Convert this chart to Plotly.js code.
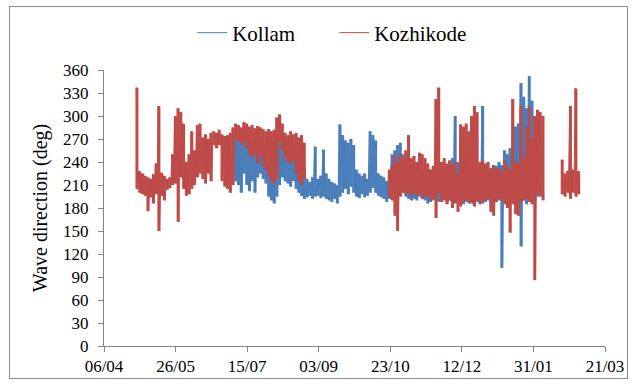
<!DOCTYPE html>
<html>
<head>
<meta charset="utf-8">
<script src="https://cdn.plot.ly/plotly-3.0.1.min.js"></script>
<style>
  html, body { margin: 0; padding: 0; background: #ffffff; }
  #wrap { position: relative; width: 638px; height: 387px; }
  #chart { width: 638px; height: 387px; }
  #frame { position: absolute; left: 9px; top: 6px; width: 619px; height: 373px;
           border: 1px solid #8c8c8c; pointer-events: none; box-sizing: border-box; }
</style>
</head>
<body>
<div id="wrap"><div id="chart"></div><div id="frame"></div></div>
<script>
// ---- Data ----
// Each sample: highest and lowest wave direction (deg) within one sampling interval.
const sampleStepHours = 46;
const kozhikodeStart = '2011-04-28T13:00:00';
const kollamStart = '2011-07-06T13:00:00';

const kozhikodeHigh = [
  337,228,225,222,220,218,224,238,313,226,222,218,220,250,300,310,305,290,240,250,
  280,255,288,290,272,276,270,278,280,278,282,276,274,275,278,285,290,288,285,292,
  290,286,288,284,287,285,283,280,283,280,282,298,302,290,278,275,280,276,278,272,
  275,265,
  null,null,null,null,null,null,null,null,null,null,null,null,null,null,null,
  null,null,null,null,null,null,null,null,null,null,null,null,null,null,null,
  230,235,248,240,250,245,255,275,245,248,240,252,250,245,238,230,235,322,337,
  240,245,238,242,236,240,225,289,286,290,280,300,313,305,240,242,238,240,232,236,
  230,232,228,243,235,230,322,240,238,313,245,285,313,270,300,308,305,300,
  null,null,null,null,null,null,
  243,225,228,313,230,336,228
];
const kozhikodeLow = [
  205,200,198,196,176,194,186,198,150,196,190,204,206,210,212,162,220,205,196,198,
  205,210,220,225,218,212,225,215,262,258,262,215,208,205,200,210,270,268,262,266,
  258,250,245,250,238,248,235,230,222,215,212,218,266,255,245,240,238,242,225,215,
  210,218,
  null,null,null,null,null,null,null,null,null,null,null,null,null,null,null,
  null,null,null,null,null,null,null,null,null,null,null,null,null,null,null,
  195,190,170,150,195,200,198,200,196,200,195,198,192,195,196,190,192,167,200,
  188,190,185,190,180,186,175,182,188,190,188,186,182,190,185,188,190,192,175,170,
  188,192,190,185,180,148,185,172,170,188,190,192,188,185,86,200,195,190,
  null,null,null,null,null,null,
  198,195,200,192,200,195,198
];
const kollamHigh = [
  270,285,280,275,270,265,270,268,265,272,262,258,240,250,245,285,300,280,270,265,
  268,262,255,250,245,230,218,214,220,260,218,222,256,225,218,214,212,210,289,275,
  268,265,270,262,230,225,222,225,218,280,275,268,225,222,220,215,228,250,255,262,
  265,250,235,230,225,232,228,235,230,226,228,230,225,232,228,230,235,232,238,245,
  300,240,232,235,230,228,232,228,230,235,313,232,228,225,230,235,240,236,255,250,
  258,245,286,290,343,325,310,352,320,300,280
];
const kollamLow = [
  215,210,200,225,210,202,215,200,220,225,218,212,195,190,186,195,210,220,215,212,
  208,215,205,200,196,192,194,196,192,195,196,193,195,192,190,188,192,186,195,200,
  205,198,208,200,195,193,198,194,196,200,206,200,196,194,192,188,192,200,205,210,
  208,200,195,192,190,192,190,195,192,190,186,188,190,192,188,190,192,188,190,186,
  190,188,190,185,188,186,190,185,188,190,186,188,190,182,185,188,190,102,190,186,
  190,188,185,192,130,190,185,195,190,188,195
];

const seriesNames = ['Kollam', 'Kozhikode'];
const seriesColors = ['#4A7EBB', '#BE4B48'];
const axisStart = '2011-04-06';
const axisEnd = '2012-03-21';

// ---- Build traces ----
function iso(ms) { return new Date(ms).toISOString().replace('T', ' ').slice(0, 19); }
const stepMs = sampleStepHours * 3600 * 1000;
// zig-zag record: high then low inside every sampling interval
function buildRecord(start, hi, lo) {
  const t0 = Date.parse(start + 'Z');
  const x = [], y = [];
  for (let i = 0; i < hi.length; i++) {
    const t = t0 + i * stepMs;
    if (hi[i] === null) { x.push(iso(t)); y.push(null); continue; }
    x.push(iso(t)); y.push(hi[i]);
    x.push(iso(t + stepMs / 2)); y.push(lo[i]);
  }
  return { x, y };
}
// range of each sampling interval as a vertical stroke (high to low)
function buildRanges(start, hi, lo) {
  const t0 = Date.parse(start + 'Z');
  const x = [], y = [];
  for (let i = 0; i < hi.length; i++) {
    if (hi[i] === null) continue;
    const t = iso(t0 + i * stepMs + stepMs / 4);
    x.push(t, t, null); y.push(hi[i], lo[i], null);
  }
  return { x, y };
}
const kolRec = buildRecord(kollamStart, kollamHigh, kollamLow);
const kozRec = buildRecord(kozhikodeStart, kozhikodeHigh, kozhikodeLow);
const kolRng = buildRanges(kollamStart, kollamHigh, kollamLow);
const kozRng = buildRanges(kozhikodeStart, kozhikodeHigh, kozhikodeLow);

const font = "Liberation Serif";
const traces = [
  { x: kolRng.x, y: kolRng.y, type: 'scatter', mode: 'lines', showlegend: false,
    line: { color: seriesColors[0], width: 3 } },
  { x: kolRec.x, y: kolRec.y, name: seriesNames[0], type: 'scatter', mode: 'lines',
    line: { color: seriesColors[0], width: 1 } },
  { x: kozRng.x, y: kozRng.y, type: 'scatter', mode: 'lines', showlegend: false,
    line: { color: seriesColors[1], width: 3 } },
  { x: kozRec.x, y: kozRec.y, name: seriesNames[1], type: 'scatter', mode: 'lines',
    line: { color: seriesColors[1], width: 1 } }
];

const layout = {
  width: 638, height: 387,
  margin: { l: 104, r: 33, t: 70, b: 41 },
  paper_bgcolor: '#ffffff', plot_bgcolor: '#ffffff',
  font: { family: font, color: '#000000' },
  showlegend: true,
  legend: { orientation: 'h', x: 0.176, xanchor: 'left', y: 1.134, yanchor: 'middle',
            entrywidth: 97, entrywidthmode: 'pixels', traceorder: 'normal',
            font: { family: font, size: 21, color: '#000000' }, bgcolor: 'rgba(0,0,0,0)' },
  xaxis: {
    type: 'date', range: [axisStart, axisEnd],
    tick0: axisStart, dtick: 50 * 86400000, tickformat: '%d/%m',
    ticks: 'outside', ticklen: 5, tickcolor: '#868686', tickwidth: 1,
    showline: true, linecolor: '#868686', linewidth: 1,
    showgrid: false, zeroline: false,
    tickfont: { family: font, size: 17, color: '#000000' }
  },
  yaxis: {
    range: [0, 360], tick0: 0, dtick: 30,
    ticks: 'outside', ticklen: 5, tickcolor: '#868686', tickwidth: 1,
    showline: true, linecolor: '#868686', linewidth: 1,
    showgrid: false, zeroline: false, ticklabelstandoff: 6,
    tickfont: { family: font, size: 17, color: '#000000' },
    title: { text: 'Wave direction (deg)', font: { family: font, size: 20, color: '#000000' }, standoff: 10 },
    automargin: false
  }
};

Plotly.newPlot('chart', traces, layout, { staticPlot: true, displayModeBar: false });
</script>
</body>
</html>
